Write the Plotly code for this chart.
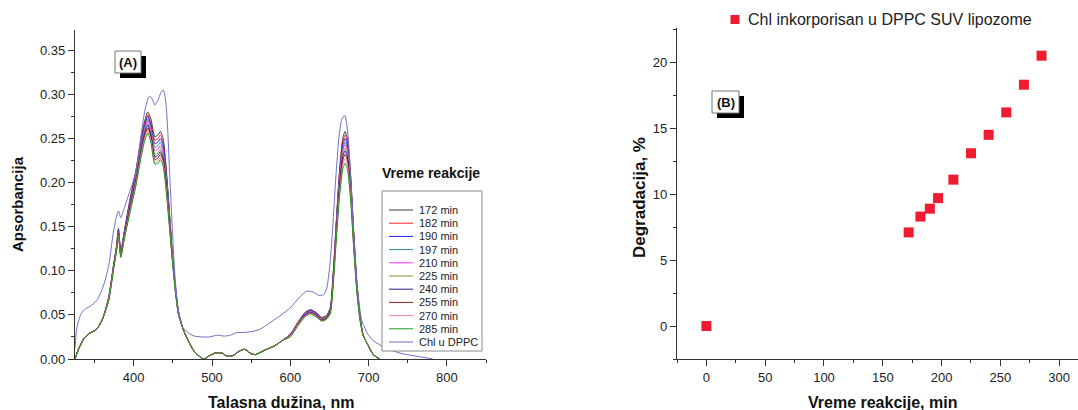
import plotly.graph_objects as go

W, H = 1078, 410

# ---------------- Panel A data (absorption spectra) ----------------
wl = [325, 329, 337, 345, 352, 360,
      368, 374, 378, 380.5, 383.5, 388, 395, 403, 409.5, 414, 418, 422, 427, 431, 434, 437.5, 441, 445, 449, 453, 457,
      463, 470, 477, 489, 497, 505, 512, 520, 527, 535, 542, 550, 556, 565, 580, 590,
      600, 610, 619, 626, 634, 640, 646,
      651, 655, 659, 663, 667, 670, 673, 677, 681, 685, 689,
      693, 699, 706, 714]

abs_172 = [0.000, 0.010, 0.024, 0.030, 0.033, 0.045,
           0.070, 0.105, 0.128, 0.148, 0.122, 0.145, 0.180, 0.215, 0.250, 0.270, 0.280, 0.272, 0.252, 0.254, 0.258, 0.250, 0.222, 0.175, 0.125, 0.085, 0.055,
           0.034, 0.020, 0.009, 0.000, 0.004, 0.007, 0.007, 0.003, 0.004, 0.009, 0.011, 0.006, 0.005, 0.009, 0.015, 0.021,
           0.028, 0.042, 0.053, 0.056, 0.052, 0.047, 0.049,
           0.058, 0.100, 0.160, 0.215, 0.250, 0.258, 0.250, 0.210, 0.145, 0.088, 0.050,
           0.027, 0.016, 0.005, 0.000]
abs_182 = [0.000, 0.010, 0.024, 0.030, 0.033, 0.045,
           0.070, 0.105, 0.127, 0.146, 0.121, 0.144, 0.178, 0.213, 0.247, 0.267, 0.277, 0.268, 0.248, 0.250, 0.254, 0.246, 0.218, 0.172, 0.123, 0.084, 0.054,
           0.034, 0.020, 0.009, 0.000, 0.004, 0.007, 0.007, 0.003, 0.004, 0.009, 0.011, 0.006, 0.005, 0.009, 0.015, 0.021,
           0.028, 0.042, 0.052, 0.055, 0.051, 0.047, 0.049,
           0.057, 0.098, 0.157, 0.212, 0.246, 0.254, 0.246, 0.207, 0.143, 0.087, 0.049,
           0.027, 0.016, 0.005, 0.000]
abs_190 = [0.000, 0.010, 0.024, 0.030, 0.033, 0.045,
           0.069, 0.104, 0.127, 0.146, 0.121, 0.143, 0.177, 0.211, 0.246, 0.265, 0.275, 0.265, 0.244, 0.246, 0.250, 0.242, 0.215, 0.170, 0.122, 0.083, 0.054,
           0.034, 0.020, 0.009, 0.000, 0.004, 0.007, 0.007, 0.003, 0.004, 0.009, 0.011, 0.006, 0.005, 0.009, 0.015, 0.021,
           0.028, 0.041, 0.052, 0.055, 0.051, 0.046, 0.048,
           0.056, 0.097, 0.155, 0.208, 0.242, 0.250, 0.242, 0.203, 0.141, 0.085, 0.049,
           0.027, 0.016, 0.005, 0.000]
abs_197 = [0.000, 0.010, 0.024, 0.030, 0.033, 0.045,
           0.069, 0.104, 0.126, 0.145, 0.120, 0.142, 0.175, 0.209, 0.243, 0.262, 0.272, 0.262, 0.240, 0.242, 0.246, 0.238, 0.212, 0.168, 0.121, 0.082, 0.053,
           0.034, 0.020, 0.009, 0.000, 0.004, 0.007, 0.007, 0.003, 0.004, 0.009, 0.011, 0.006, 0.005, 0.009, 0.015, 0.021,
           0.027, 0.041, 0.051, 0.054, 0.050, 0.046, 0.048,
           0.056, 0.095, 0.152, 0.205, 0.238, 0.246, 0.238, 0.200, 0.138, 0.084, 0.048,
           0.027, 0.016, 0.005, 0.000]
abs_210 = [0.000, 0.010, 0.024, 0.030, 0.033, 0.045,
           0.068, 0.103, 0.125, 0.144, 0.119, 0.141, 0.174, 0.207, 0.241, 0.260, 0.270, 0.259, 0.236, 0.238, 0.242, 0.234, 0.208, 0.166, 0.120, 0.082, 0.053,
           0.034, 0.020, 0.009, 0.000, 0.004, 0.007, 0.007, 0.003, 0.004, 0.009, 0.011, 0.006, 0.005, 0.009, 0.015, 0.021,
           0.027, 0.040, 0.051, 0.054, 0.050, 0.045, 0.047,
           0.055, 0.094, 0.151, 0.203, 0.236, 0.243, 0.236, 0.198, 0.137, 0.083, 0.048,
           0.027, 0.016, 0.005, 0.000]
abs_225 = [0.000, 0.010, 0.024, 0.030, 0.033, 0.045,
           0.068, 0.103, 0.125, 0.143, 0.119, 0.140, 0.172, 0.205, 0.239, 0.258, 0.267, 0.256, 0.232, 0.234, 0.238, 0.230, 0.205, 0.164, 0.119, 0.081, 0.052,
           0.034, 0.020, 0.009, 0.000, 0.004, 0.007, 0.007, 0.003, 0.004, 0.009, 0.011, 0.006, 0.005, 0.009, 0.015, 0.021,
           0.027, 0.040, 0.050, 0.053, 0.049, 0.045, 0.047,
           0.054, 0.093, 0.148, 0.199, 0.232, 0.239, 0.232, 0.194, 0.134, 0.081, 0.047,
           0.027, 0.016, 0.005, 0.000]
abs_240 = [0.000, 0.010, 0.024, 0.030, 0.033, 0.045,
           0.067, 0.102, 0.124, 0.142, 0.118, 0.139, 0.171, 0.204, 0.237, 0.256, 0.265, 0.254, 0.229, 0.231, 0.235, 0.228, 0.203, 0.162, 0.118, 0.080, 0.052,
           0.034, 0.020, 0.009, 0.000, 0.004, 0.007, 0.007, 0.003, 0.004, 0.009, 0.011, 0.006, 0.005, 0.009, 0.015, 0.021,
           0.026, 0.039, 0.050, 0.053, 0.049, 0.044, 0.046,
           0.054, 0.092, 0.146, 0.197, 0.229, 0.236, 0.229, 0.192, 0.133, 0.081, 0.047,
           0.027, 0.016, 0.005, 0.000]
abs_255 = [0.000, 0.010, 0.024, 0.030, 0.033, 0.045,
           0.067, 0.102, 0.124, 0.141, 0.117, 0.138, 0.169, 0.202, 0.235, 0.253, 0.262, 0.251, 0.226, 0.228, 0.232, 0.225, 0.200, 0.160, 0.117, 0.080, 0.052,
           0.034, 0.020, 0.009, 0.000, 0.004, 0.007, 0.007, 0.003, 0.004, 0.009, 0.011, 0.006, 0.005, 0.009, 0.015, 0.021,
           0.026, 0.039, 0.049, 0.052, 0.048, 0.044, 0.046,
           0.053, 0.090, 0.144, 0.193, 0.225, 0.232, 0.225, 0.189, 0.130, 0.079, 0.046,
           0.027, 0.016, 0.005, 0.000]
abs_270 = [0.000, 0.010, 0.024, 0.030, 0.033, 0.045,
           0.067, 0.101, 0.123, 0.140, 0.116, 0.137, 0.167, 0.200, 0.232, 0.250, 0.259, 0.248, 0.223, 0.225, 0.229, 0.222, 0.197, 0.158, 0.116, 0.079, 0.051,
           0.034, 0.020, 0.009, 0.000, 0.004, 0.007, 0.007, 0.003, 0.004, 0.009, 0.011, 0.006, 0.005, 0.009, 0.015, 0.021,
           0.026, 0.039, 0.049, 0.052, 0.048, 0.043, 0.045,
           0.052, 0.088, 0.141, 0.189, 0.220, 0.227, 0.220, 0.185, 0.128, 0.077, 0.045,
           0.027, 0.016, 0.005, 0.000]
abs_285 = [0.000, 0.010, 0.024, 0.030, 0.033, 0.045,
           0.066, 0.100, 0.122, 0.139, 0.115, 0.136, 0.165, 0.197, 0.229, 0.247, 0.256, 0.245, 0.221, 0.222, 0.226, 0.219, 0.195, 0.156, 0.115, 0.078, 0.051,
           0.034, 0.020, 0.009, 0.000, 0.004, 0.007, 0.007, 0.003, 0.004, 0.009, 0.011, 0.006, 0.005, 0.009, 0.015, 0.021,
           0.025, 0.038, 0.048, 0.051, 0.047, 0.043, 0.045,
           0.051, 0.086, 0.138, 0.185, 0.215, 0.222, 0.215, 0.181, 0.125, 0.076, 0.044,
           0.027, 0.016, 0.005, 0.000]

wl_chl = [325, 327.3, 332.1, 337, 344.7, 352.4, 360.2, 367.9, 373.7, 377.6, 380.5, 383.4, 388.2, 395, 402.7,
          409.5, 414.3, 418.2, 421.1, 424, 426.9, 430.8, 434.6, 437.6, 440.5, 443.3, 446.2, 449.2, 453, 457.8,
          462.7, 470.5, 477.2, 486.9, 496.6, 506.2, 515.9, 523.7, 531.4, 540.1, 549.8, 559.5, 569.1, 578.8, 588.5,
          600.1, 611.7, 621.4, 629.1, 636.9, 642.7, 646.5, 650.4, 654.3, 658.1, 662, 665.9, 669.7, 673.6, 677.5,
          681.3, 685.2, 691, 697.8, 704.6, 714.2, 728.7, 743.2, 762.6, 782]
abs_chl = [0.012, 0.035, 0.050, 0.056, 0.060, 0.066, 0.080, 0.105, 0.142, 0.160, 0.168, 0.160, 0.172, 0.190, 0.212,
           0.255, 0.282, 0.295, 0.298, 0.294, 0.288, 0.293, 0.302, 0.305, 0.295, 0.262, 0.205, 0.150, 0.090, 0.050,
           0.036, 0.029, 0.026, 0.025, 0.025, 0.027, 0.026, 0.027, 0.030, 0.030, 0.031, 0.033, 0.038, 0.044, 0.050,
           0.058, 0.070, 0.077, 0.076, 0.072, 0.073, 0.080, 0.105, 0.150, 0.205, 0.250, 0.272, 0.276, 0.255, 0.200,
           0.135, 0.085, 0.045, 0.030, 0.022, 0.016, 0.010, 0.006, 0.003, 0.000]

series_names = ["172 min", "182 min", "190 min", "197 min", "210 min", "225 min",
                "240 min", "255 min", "270 min", "285 min", "Chl u DPPC"]
series_colors = ["#3a3a3a", "#ff2020", "#1f1fff", "#2a8f8f", "#ff30ff", "#8a8a30",
                 "#1c1c8c", "#8c1c1c", "#ff7f95", "#1a9a1a", "#6f6fc6"]
series_x = [wl] * 10 + [wl_chl]
series_y = [abs_172, abs_182, abs_190, abs_197, abs_210, abs_225,
            abs_240, abs_255, abs_270, abs_285, abs_chl]

# ---------------- Panel B data (degradation) ----------------
time_min = [0, 172, 182, 190, 197, 210, 225, 240, 255, 270, 285]
degradation = [0.0, 7.1, 8.3, 8.9, 9.7, 11.1, 13.1, 14.5, 16.2, 18.3, 20.5]
legend_b = "Chl inkorporisan u DPPC SUV lipozome"
marker_red = "#ee1c2e"

def px(x):
    return x / W

def py(y):
    return 1 - y / H

fig = go.Figure()

for name, color, xs, ys in zip(series_names, series_colors, series_x, series_y):
    fig.add_trace(go.Scatter(x=xs, y=ys, mode="lines", name=name,
                             line=dict(color=color, width=1, shape="spline", smoothing=0.6),
                             showlegend=False, xaxis="x", yaxis="y"))

fig.add_trace(go.Scatter(x=time_min, y=degradation, mode="markers", name=legend_b,
                         marker=dict(symbol="square", size=10, color=marker_red),
                         showlegend=False, xaxis="x2", yaxis="y2"))

FONT = "Liberation Sans, Arial, sans-serif"
axis_common = dict(showline=True, linecolor="#333333", linewidth=1.3, ticks="outside",
                   ticklen=6, tickwidth=1.2, tickcolor="#333333", showgrid=False, zeroline=False,
                   automargin=False,
                   tickfont=dict(family=FONT, size=13, color="#222222"))

shapes = []
annotations = []

def label(x, y, text, size, angle=0, xanchor="center"):
    annotations.append(dict(xref="paper", yref="paper", x=px(x), y=py(y), text=text, showarrow=False,
                            xanchor=xanchor, yanchor="middle", textangle=angle,
                            font=dict(family=FONT, size=size, color="#111111")))

# axis titles
label(17, 204, "<b>Apsorbancija</b>", 15, angle=-90)
label(281, 402, "<b>Talasna dužina, nm</b>", 16)
label(639, 198, "<b>Degradacija, %</b>", 17, angle=-90)
label(882, 402, "<b>Vreme reakcije, min</b>", 16)

# Legend for panel A (compact Origin-style legend)
lx0, lx1, ly0, ly1 = 382, 482, 191, 351
shapes.append(dict(type="rect", xref="paper", yref="paper", x0=px(lx0), x1=px(lx1), y0=py(ly1), y1=py(ly0),
                   line=dict(color="#8a8a8a", width=1), fillcolor="white", layer="above"))
for i, (name, color) in enumerate(zip(series_names, series_colors)):
    yy = 210 + 13.2 * i
    shapes.append(dict(type="line", xref="paper", yref="paper", x0=px(389), x1=px(413), y0=py(yy), y1=py(yy),
                       line=dict(color=color, width=1), layer="above"))
    annotations.append(dict(xref="paper", yref="paper", x=px(417), y=py(yy), text=name, showarrow=False,
                            xanchor="left", yanchor="middle",
                            font=dict(family=FONT, size=11, color="#222222")))
label(380, 173, "<b>Vreme reakcije</b>", 14, xanchor="left")

# Legend for panel B
shapes.append(dict(type="rect", xref="paper", yref="paper", x0=px(730.5), x1=px(739.5), y0=py(24), y1=py(15),
                   line=dict(width=0), fillcolor=marker_red, layer="above"))
annotations.append(dict(xref="paper", yref="paper", x=px(746), y=py(19.5), text=legend_b, showarrow=False,
                        xanchor="left", yanchor="middle", font=dict(family=FONT, size=16, color="#222222")))

# (A) and (B) labels with shadow boxes
for (bx0, by0, bx1, by1, lab) in [(115, 51, 141, 73, "(A)"), (712, 91, 739, 113, "(B)")]:
    shapes.append(dict(type="rect", xref="paper", yref="paper", x0=px(bx0 + 5), x1=px(bx1 + 5),
                       y0=py(by1 + 5), y1=py(by0 + 5), line=dict(color="black", width=0), fillcolor="black",
                       layer="above"))
    shapes.append(dict(type="rect", xref="paper", yref="paper", x0=px(bx0), x1=px(bx1),
                       y0=py(by1), y1=py(by0), line=dict(color="#777777", width=1), fillcolor="white",
                       layer="above"))
    label((bx0 + bx1) / 2, (by0 + by1) / 2, "<b>" + lab + "</b>", 13)

fig.update_layout(
    width=W, height=H, margin=dict(l=0, r=0, t=0, b=0, autoexpand=False),
    paper_bgcolor="white", plot_bgcolor="white", showlegend=False,
    xaxis=dict(domain=[px(75), px(486)], range=[325, 850], tickvals=[400, 500, 600, 700, 800],
               minor=dict(dtick=50, tick0=0, ticklen=3, tickcolor="#333333", ticks="outside"),
               anchor="y", **axis_common),
    yaxis=dict(domain=[py(359), py(30)], range=[0, 0.373], tickvals=[0, 0.05, 0.10, 0.15, 0.20, 0.25, 0.30, 0.35],
               tickformat=".2f",
               minor=dict(dtick=0.025, tick0=0, ticklen=3, tickcolor="#333333", ticks="outside"),
               anchor="x", **axis_common),
    xaxis2=dict(domain=[px(677), 1.0], range=[-25, 316], tickvals=[0, 50, 100, 150, 200, 250, 300],
                minor=dict(dtick=25, tick0=0, ticklen=3, tickcolor="#333333", ticks="outside"),
                anchor="y2", **axis_common),
    yaxis2=dict(domain=[py(359), py(28)], range=[-2.5, 22.6], tickvals=[0, 5, 10, 15, 20],
                minor=dict(dtick=2.5, tick0=0, ticklen=3, tickcolor="#333333", ticks="outside"),
                anchor="x2", **axis_common),
    shapes=shapes, annotations=annotations,
)

fig.write_html("out.html", config={"displayModeBar": False},
               post_script="document.body.style.margin='0px';document.body.style.overflow='hidden';")
